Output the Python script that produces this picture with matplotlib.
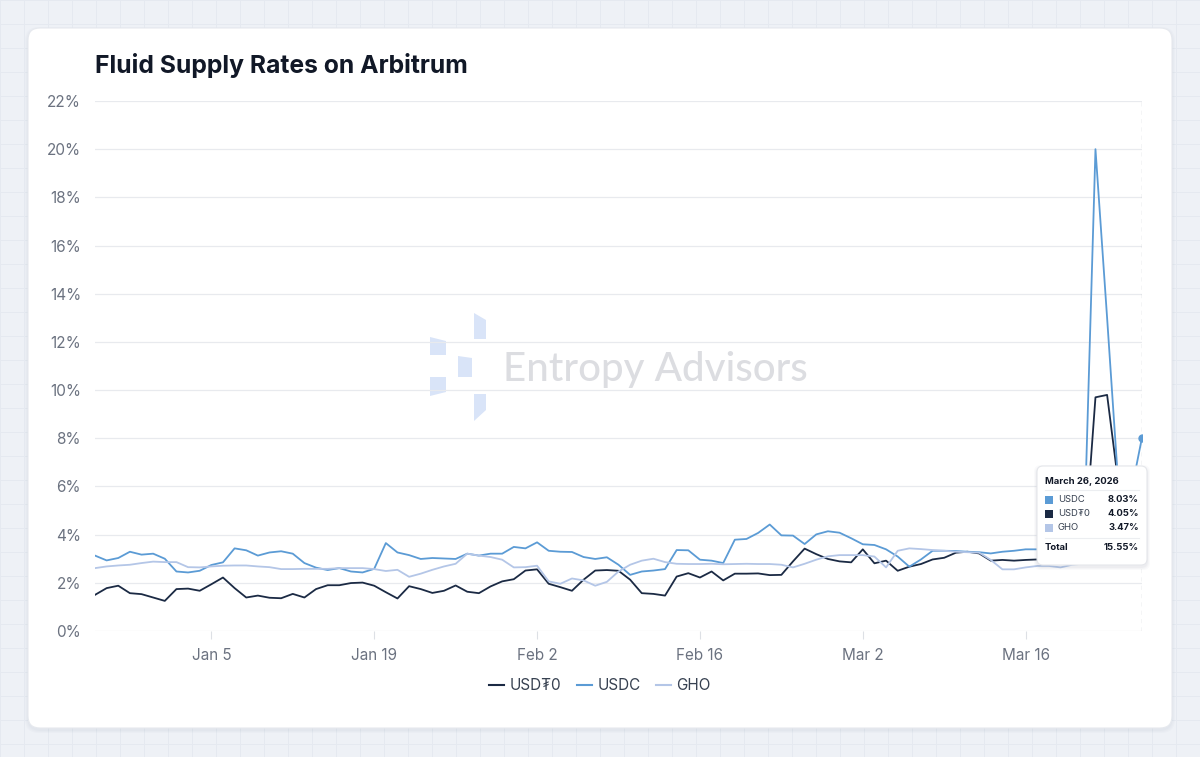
import numpy as np
import pandas as pd
import matplotlib
matplotlib.use("Agg")
import matplotlib.pyplot as plt
from matplotlib.patches import FancyBboxPatch, Polygon, Rectangle
from matplotlib.lines import Line2D

plt.rcParams['font.family'] = ['Inter', 'DejaVu Sans']

# ---------------- data ----------------
start_date = "2025-12-26"
end_date = "2026-03-26"

usdt0 = [1.50, 1.78, 1.88, 1.57, 1.53, 1.39, 1.25, 1.74, 1.76, 1.67,
         1.94, 2.22, 1.78, 1.39, 1.47, 1.38, 1.36, 1.54, 1.39, 1.74,
         1.90, 1.90, 1.99, 2.01, 1.88, 1.61, 1.35, 1.86, 1.74, 1.58,
         1.67, 1.89, 1.63, 1.57, 1.85, 2.06, 2.15, 2.51, 2.56, 1.96,
         1.82, 1.67, 2.13, 2.51, 2.53, 2.50, 2.13, 1.57, 1.54, 1.47,
         2.26, 2.40, 2.22, 2.47, 2.10, 2.38, 2.38, 2.39, 2.32, 2.33,
         2.89, 3.42, 3.19, 2.99, 2.89, 2.85, 3.39, 2.81, 2.92, 2.50,
         2.67, 2.78, 2.97, 3.04, 3.25, 3.29, 3.22, 2.92, 2.95, 2.92,
         2.95, 2.97, 3.00, 3.03, 3.07, 3.10, 9.70, 9.80, 6.00, 4.20,
         4.05]

usdc = [3.13, 2.93, 3.03, 3.29, 3.17, 3.21, 3.00, 2.47, 2.43, 2.50,
        2.74, 2.85, 3.43, 3.35, 3.13, 3.26, 3.31, 3.21, 2.82, 2.63,
        2.53, 2.61, 2.47, 2.43, 2.58, 3.65, 3.26, 3.15, 2.99, 3.03,
        3.01, 2.99, 3.21, 3.13, 3.21, 3.21, 3.49, 3.43, 3.68, 3.33,
        3.29, 3.28, 3.07, 2.99, 3.06, 2.75, 2.33, 2.47, 2.51, 2.57,
        3.36, 3.35, 2.96, 2.92, 2.82, 3.79, 3.82, 4.07, 4.42, 3.97,
        3.96, 3.61, 4.01, 4.14, 4.08, 3.85, 3.60, 3.57, 3.39, 3.09,
        2.67, 2.97, 3.33, 3.33, 3.32, 3.29, 3.27, 3.22, 3.29, 3.33,
        3.39, 3.39, 3.40, 3.40, 3.40, 3.45, 20.00, 13.00, 5.80, 5.60,
        8.03]

gho = [2.61, 2.68, 2.72, 2.75, 2.82, 2.88, 2.86, 2.86, 2.65, 2.64,
       2.68, 2.71, 2.72, 2.72, 2.68, 2.65, 2.57, 2.57, 2.58, 2.58,
       2.58, 2.61, 2.61, 2.61, 2.57, 2.49, 2.54, 2.25, 2.38, 2.54,
       2.68, 2.79, 3.21, 3.13, 3.07, 2.96, 2.64, 2.65, 2.71, 2.06,
       1.96, 2.18, 2.10, 1.88, 2.04, 2.47, 2.75, 2.92, 3.00, 2.86,
       2.79, 2.78, 2.78, 2.79, 2.77, 2.78, 2.79, 2.78, 2.78, 2.75,
       2.64, 2.79, 2.96, 3.10, 3.15, 3.15, 3.15, 3.09, 2.64, 3.33,
       3.43, 3.40, 3.36, 3.33, 3.29, 3.27, 3.25, 2.95, 2.56, 2.56,
       2.64, 2.70, 2.70, 2.64, 2.75, 2.80, 3.00, 3.20, 3.40, 3.45,
       3.47]

series_names = ["USD₮0", "USDC", "GHO"]
series_colors = ["#1b2a44", "#5b9bd5", "#b4c6e7"]

xtick_dates = ["2026-01-05", "2026-01-19", "2026-02-02", "2026-02-16", "2026-03-02", "2026-03-16"]
xtick_labels = ["Jan 5", "Jan 19", "Feb 2", "Feb 16", "Mar 2", "Mar 16"]
ytick_values = [0, 2, 4, 6, 8, 10, 12, 14, 16, 18, 20, 22]
ytick_labels = [f"{v}%" for v in ytick_values]

title = "Fluid Supply Rates on Arbitrum"
watermark = "Entropy Advisors"

dates = pd.date_range(start_date, end_date, freq="D")
values = [usdt0, usdc, gho]

# ---------------- figure ----------------
W, H = 1200, 757
fig = plt.figure(figsize=(W / 100, H / 100), dpi=100)
fig.patch.set_facecolor("#eef1f6")

bg = fig.add_axes([0, 0, 1, 1])
bg.set_xlim(0, W)
bg.set_ylim(H, 0)
bg.axis("off")
# faint page grid
for gx in np.arange(0, W, 24):
    bg.plot([gx, gx], [0, H], color="#e5e9f0", lw=0.7, zorder=0)
for gy in np.arange(0, H, 24):
    bg.plot([0, W], [gy, gy], color="#e5e9f0", lw=0.7, zorder=0)
# card shadow + card
for i, a in enumerate([0.03, 0.03, 0.04]):
    off = 3 - i
    bg.add_patch(FancyBboxPatch((28 - off, 28 - off + 2), 1144 + 2 * off, 700 + 2 * off,
                                boxstyle="round,pad=0,rounding_size=14",
                                fc="#8090a8", ec="none", alpha=a, zorder=1))
bg.add_patch(FancyBboxPatch((28, 28), 1144, 700, boxstyle="round,pad=0,rounding_size=12",
                            fc="white", ec="#e6e9ee", lw=0.8, zorder=2))

# watermark logo
logo_color = "#d9e4f8"
shapes = [
    [(474, 313), (486, 320), (486, 339), (474, 339)],
    [(430, 337), (446, 341), (446, 355), (430, 355)],
    [(458, 356), (472, 358), (472, 377), (458, 377)],
    [(430, 377), (446, 377), (446, 392), (430, 396)],
    [(474, 394), (486, 394), (486, 410), (474, 421)],
]
for s in shapes:
    bg.add_patch(Polygon(s, closed=True, fc=logo_color, ec="none", zorder=3))
bg.text(503, 369, watermark, fontsize=29, color="#dcdde1", ha="left", va="center",
        family=["Lato", "DejaVu Sans"], fontweight="medium", zorder=3)

# title
bg.text(95, 66, title, fontsize=17.8, fontweight="bold", color="#111827",
        ha="left", va="center", zorder=4)

# ---------------- main axes ----------------
left, right, top, bottom = 95, 1142, 101, 631
ax = fig.add_axes([left / W, 1 - bottom / H, (right - left) / W, (bottom - top) / H])
ax.set_facecolor("none")
for sp in ax.spines.values():
    sp.set_visible(False)

for name, vals, col in zip(series_names, values, series_colors):
    ax.plot(dates, vals, color=col, lw=1.3, label=name, zorder=3, solid_joinstyle="round")

ax.set_xlim(dates[0], dates[-1])
ax.set_ylim(0, 22)
ax.set_yticks(ytick_values)
ax.set_yticklabels(ytick_labels)
ax.set_xticks(pd.to_datetime(xtick_dates))
ax.set_xticklabels(xtick_labels)
ax.grid(axis="y", color="#e8eaee", lw=0.9, zorder=0)
ax.tick_params(axis="y", length=0, pad=10, labelsize=11, labelcolor="#6b7280")
ax.tick_params(axis="x", length=6, width=0.8, color="#dde0e5", pad=6, labelsize=11,
               labelcolor="#6b7280")

# hover cursor and point
ax.axvline(dates[-1], color="#c9cdd3", lw=1, ls=(0, (3, 3)), zorder=2)
ax.plot([dates[-1]], [usdc[-1]], "o", ms=5, color=series_colors[1], zorder=5)

# legend
handles = [Line2D([0], [0], color=c, lw=1.5) for c in series_colors]
leg = fig.legend(handles, series_names, loc="center", bbox_to_anchor=(0.5, 1 - 686 / H),
                 ncol=3, frameon=False, fontsize=11, handlelength=1.0, handletextpad=0.35,
                 columnspacing=1.0)
for t in leg.get_texts():
    t.set_color("#374151")

# ---------------- tooltip overlay ----------------
ov = fig.add_axes([0, 0, 1, 1])
ov.set_xlim(0, W)
ov.set_ylim(H, 0)
ov.axis("off")
ov.set_facecolor("none")
tx, ty, tw, th = 1037, 466, 110, 99
for i, a in enumerate([0.03, 0.04, 0.05]):
    off = 3 - i
    ov.add_patch(FancyBboxPatch((tx - off, ty - off + 2), tw + 2 * off, th + 2 * off,
                                boxstyle="round,pad=0,rounding_size=7",
                                fc="#6b7a90", ec="none", alpha=a))
ov.add_patch(FancyBboxPatch((tx, ty), tw, th, boxstyle="round,pad=0,rounding_size=6",
                            fc="white", ec="#e5e7eb", lw=0.8))
ov.text(tx + 8, ty + 15, dates[-1].strftime("%B %-d, %Y"), fontsize=6.8, fontweight="bold",
        color="#111827", ha="left", va="center")
ov.plot([tx + 8, tx + tw - 8], [ty + 24, ty + 24], color="#eceef1", lw=0.8)
last = sorted([(v[-1], n, c) for v, n, c in zip(values, series_names, series_colors)],
              reverse=True)
for k, (v, n, c) in enumerate(last):
    yy = ty + 34 + 14 * k
    ov.add_patch(Rectangle((tx + 8, yy - 4), 8, 8, fc=c, ec="none"))
    ov.text(tx + 21, yy, n, fontsize=6.8, color="#374151", ha="left", va="center")
    ov.text(tx + tw - 8, yy, f"{v:.2f}%", fontsize=6.8, fontweight="bold", color="#111827",
            ha="right", va="center")
ov.plot([tx + 8, tx + tw - 8], [ty + 72, ty + 72], color="#eceef1", lw=0.8)
total = sum(v for v, _, _ in last)
ov.text(tx + 8, ty + 81, "Total", fontsize=6.8, fontweight="bold", color="#111827",
        ha="left", va="center")
ov.text(tx + tw - 8, ty + 81, f"{total:.2f}%", fontsize=6.8, fontweight="bold",
        color="#111827", ha="right", va="center")

fig.savefig("out.png", dpi=100, facecolor=fig.get_facecolor())
